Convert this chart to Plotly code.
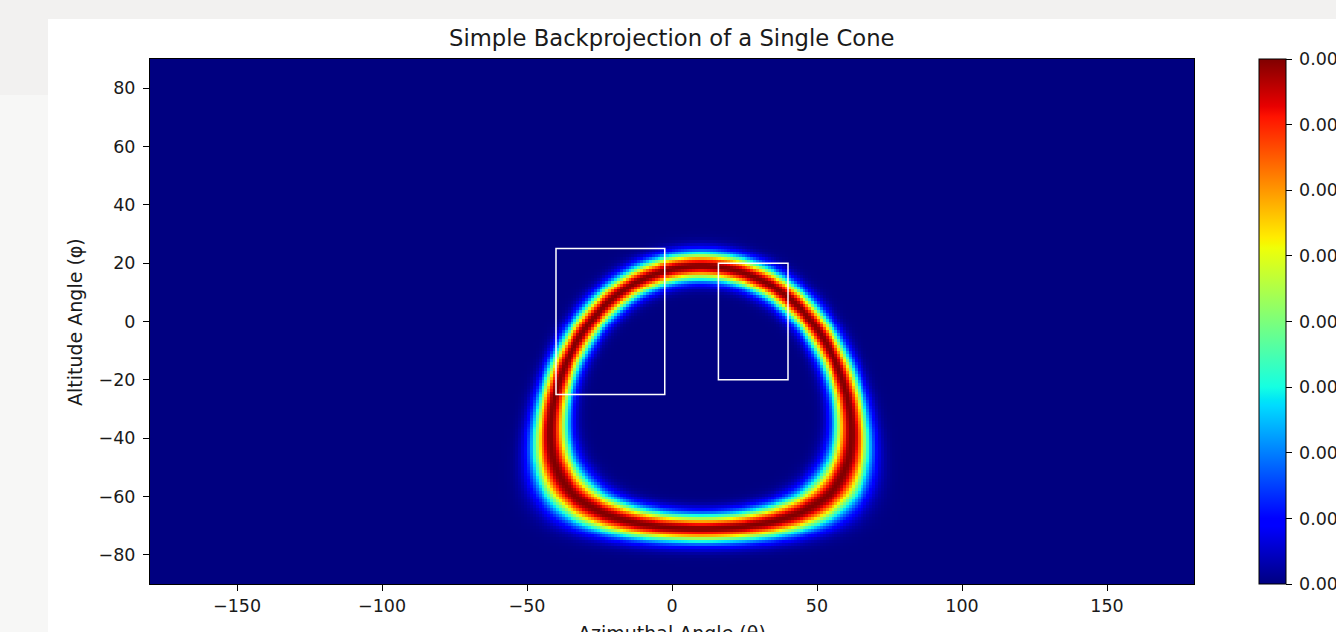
import numpy as np
import plotly.graph_objects as go

# ---- cone parameters (degrees) ----
cone_axis_az = 10.0        # azimuth of the cone axis
cone_axis_alt = -26.0      # altitude of the cone axis
cone_half_angle = 45.0     # opening half-angle of the cone
ring_sigma = 3.2           # angular spread of the backprojected ring
peak_value = 0.0008        # intensity at the ring centre

# ---- sky grid (1 degree cells) ----
az_centers = np.arange(-179.5, 180.0, 1.0)
alt_centers = np.arange(-89.5, 90.0, 1.0)

# ---- field-of-view boxes: (az_min, az_max, alt_min, alt_max) ----
box_az_min = [-40.0, 16.0]
box_az_max = [-2.5, 40.0]
box_alt_min = [-25.0, -20.0]
box_alt_max = [25.0, 20.0]

# ---- axis / colorbar ticks ----
x_ticks = [-150, -100, -50, 0, 50, 100, 150]
y_ticks = [-80, -60, -40, -20, 0, 20, 40, 60, 80]
cbar_ticks = [0.0, 0.0001, 0.0002, 0.0003, 0.0004, 0.0005, 0.0006, 0.0007, 0.0008]

# backprojection: intensity falls off with the angular distance from the cone surface
AZ, ALT = np.meshgrid(np.radians(az_centers), np.radians(alt_centers))
a0, b0 = np.radians(cone_axis_az), np.radians(cone_axis_alt)
cos_d = np.sin(ALT) * np.sin(b0) + np.cos(ALT) * np.cos(b0) * np.cos(AZ - a0)
ang = np.degrees(np.arccos(np.clip(cos_d, -1, 1)))
z = peak_value * np.exp(-((ang - cone_half_angle) ** 2) / (2 * ring_sigma ** 2))

# matplotlib-style jet colour map (piecewise linear)
red_pts = [(0, 0), (0.35, 0), (0.66, 1), (0.89, 1), (1, 0.5)]
green_pts = [(0, 0), (0.125, 0), (0.375, 1), (0.64, 1), (0.91, 0), (1, 0)]
blue_pts = [(0, 0.5), (0.11, 1), (0.34, 1), (0.65, 0), (1, 0)]
stops = sorted({p[0] for p in red_pts + green_pts + blue_pts})


def chan(pts, s):
    xs, ys = zip(*pts)
    return float(np.interp(s, xs, ys))


jet = [[s, "rgb(%d,%d,%d)" % (round(255 * chan(red_pts, s)),
                               round(255 * chan(green_pts, s)),
                               round(255 * chan(blue_pts, s)))] for s in stops]

W, H = 1336, 632
PX0, PX1, PY0, PY1 = 150, 1194, 59, 584   # plot area in pixels
FONT = "DejaVu Sans"
TXT = "#1a1a1a"
TICK_SIZE = 17.5
LABEL_SIZE = 19

fig = go.Figure()
fig.add_trace(go.Heatmap(
    x=az_centers, y=alt_centers, z=z,
    colorscale=jet, zmin=0, zmax=peak_value, zsmooth=False,
    colorbar=dict(
        x=1259 / W, xanchor="left", xpad=0,
        y=1 - (PY0 + PY1) / 2 / H, yanchor="middle", ypad=0,
        len=PY1 - PY0, lenmode="pixels",
        thickness=27, thicknessmode="pixels",
        outlinewidth=1, outlinecolor="black",
        tickvals=cbar_ticks, ticktext=["\u2009%.4f" % v for v in cbar_ticks],
        ticks="outside", ticklen=6, tickwidth=1, tickcolor="black",
        tickfont=dict(family=FONT, size=TICK_SIZE, color=TXT),
    ),
    hoverinfo="skip",
))

for x0, x1, y0, y1 in zip(box_az_min, box_az_max, box_alt_min, box_alt_max):
    fig.add_shape(type="rect", xref="x", yref="y", x0=x0, x1=x1, y0=y0, y1=y1,
                  line=dict(color="white", width=1.5), fillcolor="rgba(0,0,0,0)")

# page backdrop and figure panel
fig.add_shape(type="rect", xref="paper", yref="paper", layer="below",
              x0=0, x1=48 / W, y0=0, y1=1 - 95 / H,
              fillcolor="#f7f7f6", line=dict(width=0))
fig.add_shape(type="rect", xref="paper", yref="paper", layer="below",
              x0=48 / W, x1=1.02, y0=-0.02, y1=1 - 19 / H,
              fillcolor="white", line=dict(width=0))

fig.add_annotation(text="Simple Backprojection of a Single Cone", xref="paper", yref="paper",
                   x=(PX0 + PX1) / 2 / W, y=1 - 38 / H, xanchor="center", yanchor="middle",
                   showarrow=False, font=dict(family=FONT, size=22.7, color=TXT))
fig.add_annotation(text="Altitude Angle (φ)", xref="paper", yref="paper",
                   x=75 / W, y=1 - 322 / H, xanchor="center", yanchor="middle", textangle=-90,
                   showarrow=False, font=dict(family=FONT, size=LABEL_SIZE, color=TXT))
fig.add_annotation(text="Azimuthal Angle (θ)", xref="paper", yref="paper",
                   x=(PX0 + PX1) / 2 / W, y=1 - 620 / H, xanchor="center", yanchor="top",
                   showarrow=False, font=dict(family=FONT, size=LABEL_SIZE, color=TXT))


def fmt(v):
    return ("\u2212%d" % -v) if v < 0 else "%d" % v


fig.update_layout(
    width=W, height=H,
    margin=dict(l=0, r=0, t=0, b=0, autoexpand=False),
    paper_bgcolor="#f2f1f0", plot_bgcolor="#000080",
    xaxis=dict(domain=[PX0 / W, PX1 / W], range=[-180, 180], tickvals=x_ticks,
               ticktext=[fmt(v) for v in x_ticks], ticks="outside", ticklen=6,
               tickcolor="black", showline=True, linecolor="black", linewidth=1,
               mirror=True, showgrid=False, zeroline=False, automargin=False,
               tickfont=dict(family=FONT, size=TICK_SIZE, color=TXT)),
    yaxis=dict(domain=[1 - PY1 / H, 1 - PY0 / H], range=[-90, 90], tickvals=y_ticks,
               ticktext=[fmt(v) for v in y_ticks], ticks="outside", ticklen=6,
               tickcolor="black", showline=True, linecolor="black", linewidth=1,
               mirror=True, showgrid=False, zeroline=False, automargin=False,
               ticklabelstandoff=4,
               tickfont=dict(family=FONT, size=TICK_SIZE, color=TXT)),
    showlegend=False,
)

fig.write_html("out.html")
